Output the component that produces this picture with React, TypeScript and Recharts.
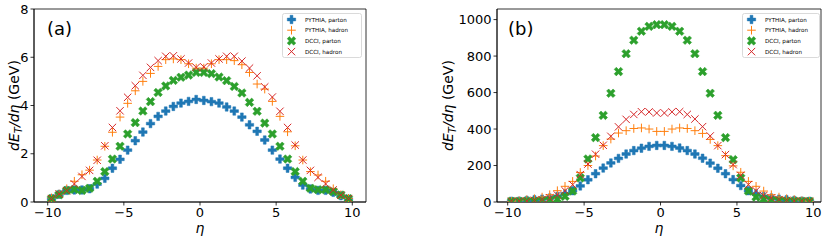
import { ScatterChart, Scatter, XAxis, YAxis, Legend, ReferenceArea, Label } from 'recharts';

const FONT = '"DejaVu Sans", sans-serif';
const BLUE = '#1f77b4';
const ORANGE = '#ff7f0e';
const GREEN = '#2ca02c';
const RED = '#d62728';

// bin centres in eta
const ETA = [
  -9.75, -9.25, -8.75, -8.25, -7.75, -7.25, -6.75, -6.25, -5.75, -5.25,
  -4.75, -4.25, -3.75, -3.25, -2.75, -2.25, -1.75, -1.25, -0.75, -0.25,
  0.25, 0.75, 1.25, 1.75, 2.25, 2.75, 3.25, 3.75, 4.25, 4.75,
  5.25, 5.75, 6.25, 6.75, 7.25, 7.75, 8.25, 8.75, 9.25, 9.75,
];

// panel (a)
const A_PYTHIA_PARTON = [
  0.14, 0.32, 0.48, 0.5, 0.5, 0.55, 0.74, 0.98, 1.4, 1.77,
  2.15, 2.54, 2.9, 3.25, 3.55, 3.77, 3.96, 4.1, 4.17, 4.25,
  4.21, 4.16, 4.1, 3.94, 3.77, 3.52, 3.2, 2.93, 2.57, 2.15,
  1.78, 1.4, 1.02, 0.7, 0.54, 0.48, 0.48, 0.4, 0.26, 0.12,
];
const A_PYTHIA_HADRON = [
  0.17, 0.33, 0.55, 0.86, 1.13, 1.32, 1.74, 2.31, 2.89, 3.52,
  4.09, 4.61, 5.0, 5.33, 5.62, 5.9, 5.93, 5.9, 5.73, 5.55,
  5.55, 5.73, 5.9, 5.9, 5.86, 5.69, 5.37, 4.89, 4.68, 4.17,
  3.55, 2.91, 2.33, 1.74, 1.26, 1.12, 0.86, 0.55, 0.3, 0.15,
];
const A_DCCI_PARTON = [
  0.14, 0.3, 0.48, 0.52, 0.48, 0.57, 0.86, 1.26, 1.78, 2.31,
  2.82, 3.29, 3.77, 4.16, 4.54, 4.81, 5.04, 5.17, 5.26, 5.37,
  5.37, 5.32, 5.18, 5.03, 4.79, 4.52, 4.13, 3.76, 3.27, 2.82,
  2.31, 1.78, 1.26, 0.86, 0.57, 0.51, 0.51, 0.43, 0.29, 0.14,
];
const A_DCCI_HADRON = [
  0.14, 0.33, 0.47, 0.75, 1.06, 1.31, 1.73, 2.33, 3.09, 3.78,
  4.34, 4.82, 5.25, 5.58, 5.86, 6.04, 6.06, 5.93, 5.76, 5.58,
  5.6, 5.76, 5.93, 6.04, 6.04, 5.84, 5.55, 5.23, 4.77, 4.35,
  3.76, 3.09, 2.36, 1.74, 1.31, 1.02, 0.75, 0.5, 0.28, 0.14,
];

// panel (b)
const B_PYTHIA_PARTON = [
  4, 5, 9, 13, 16, 22, 31, 44, 62, 88,
  122, 155, 186, 214, 239, 263, 282, 295, 305, 310,
  310, 305, 296, 282, 263, 240, 213, 185, 155, 123,
  90, 62, 45, 31, 22, 16, 13, 9, 5, 4,
];
const B_PYTHIA_HADRON = [
  4, 7, 13, 18, 27, 40, 62, 86, 113, 162,
  200, 252, 309, 345, 378, 391, 403, 406, 400, 387,
  387, 400, 406, 403, 391, 376, 343, 309, 254, 198,
  163, 113, 86, 60, 40, 27, 18, 13, 7, 4,
];
const B_DCCI_PARTON = [
  4, 4, 5, 5, 7, 9, 16, 31, 60, 132,
  236, 353, 475, 596, 715, 813, 887, 936, 963, 972,
  972, 963, 936, 887, 813, 715, 596, 475, 353, 232,
  132, 60, 27, 16, 9, 7, 5, 5, 4, 4,
];
const B_DCCI_HADRON = [
  4, 4, 5, 9, 13, 22, 38, 62, 95, 150,
  208, 262, 311, 360, 412, 453, 480, 495, 494, 488,
  488, 494, 495, 480, 455, 413, 362, 309, 260, 205,
  146, 95, 62, 35, 22, 13, 9, 5, 4, 4,
];

const LEGEND_NAMES = ['PYTHIA, parton', 'PYTHIA, hadron', 'DCCI, parton', 'DCCI, hadron'];

const toPoints = (ys: number[]) => ETA.map((x, i) => ({ x, y: ys[i] }));
const minus = (v: number) => String(v).replace('-', '\u2212');

function PlusFilled({ cx, cy, color, h = 4.2, w = 1.4 }: any) {
  const d = `M${cx - w},${cy - h}H${cx + w}V${cy - w}H${cx + h}V${cy + w}H${cx + w}V${cy + h}H${cx - w}V${cy + w}H${cx - h}V${cy - w}H${cx - w}Z`;
  return <path d={d} fill={color} stroke={color} strokeWidth={0.5} />;
}

function XFilled({ cx, cy, color }: any) {
  return (
    <g transform={`rotate(45 ${cx} ${cy})`}>
      <PlusFilled cx={cx} cy={cy} color={color} h={4.6} w={1.5} />
    </g>
  );
}

function PlusThin({ cx, cy, color }: any) {
  const h = 4.3;
  return (
    <path d={`M${cx - h},${cy}H${cx + h}M${cx},${cy - h}V${cy + h}`} stroke={color} strokeWidth={1} fill="none" />
  );
}

function XThin({ cx, cy, color }: any) {
  const h = 3.7;
  return (
    <path
      d={`M${cx - h},${cy - h}L${cx + h},${cy + h}M${cx - h},${cy + h}L${cx + h},${cy - h}`}
      stroke={color}
      strokeWidth={1}
      fill="none"
    />
  );
}

const MARKERS = [
  (p: any) => <PlusFilled cx={p.cx} cy={p.cy} color={BLUE} />,
  (p: any) => <PlusThin cx={p.cx} cy={p.cy} color={ORANGE} />,
  (p: any) => <XFilled cx={p.cx} cy={p.cy} color={GREEN} />,
  (p: any) => <XThin cx={p.cx} cy={p.cy} color={RED} />,
];

function LegendBox({ width }: { width: number }) {
  return (
    <svg width={width} height={45} style={{ display: 'block' }}>
      <rect x={0.5} y={0.5} width={width - 1} height={44} rx={2} fill="#fff" fillOpacity={0.8} stroke="#d0d0d0" strokeWidth={0.8} />
      {LEGEND_NAMES.map((name, i) => {
        const cy = 6.5 + i * 10.7;
        return (
          <g key={name}>
            {MARKERS[i]({ cx: 9.5, cy })}
            <text x={23} y={cy + 2} fontSize={5.6} fontFamily={FONT} fill="#000">
              {name}
            </text>
          </g>
        );
      })}
    </svg>
  );
}

function YLabel({ viewBox, offsetX }: any) {
  const cx = viewBox.x + offsetX;
  const cy = viewBox.y + viewBox.height / 2;
  return (
    <text x={cx} y={cy} transform={`rotate(-90 ${cx} ${cy})`} textAnchor="middle" dy="0.36em" fontSize={14} fontFamily={FONT} fill="#000">
      <tspan fontStyle="italic">dE</tspan>
      <tspan fontStyle="italic" fontSize={10} dy={3}>T</tspan>
      <tspan fontStyle="italic" dy={-3}>{'/d\u03b7'}</tspan>
      <tspan>{' (GeV)'}</tspan>
    </text>
  );
}

function Panel({ left, width, rightGap, yAxisWidth, xDomain, yDomain, yTicks, series, legendLeft, legendWidth, yLabelX }: any) {
  const tickStyle = { fontSize: 13, fill: '#000', fontFamily: FONT };
  return (
    <div style={{ position: 'absolute', left, top: 0 }}>
      <ScatterChart width={width} height={243} margin={{ top: 9, right: rightGap, bottom: 0, left: 0 }}>
        <XAxis
          type="number"
          dataKey="x"
          domain={xDomain}
          allowDataOverflow
          ticks={[-10, -5, 0, 5, 10]}
          tickFormatter={minus}
          height={41}
          tickSize={3.5}
          tick={tickStyle}
          stroke="#000"
          strokeWidth={0.8}
        >
          <Label value={'\u03b7'} position="insideBottom" offset={10} style={{ fontSize: 14, fontStyle: 'italic', fontFamily: FONT, fill: '#000' }} />
        </XAxis>
        <YAxis
          type="number"
          dataKey="y"
          domain={yDomain}
          allowDataOverflow
          ticks={yTicks}
          width={yAxisWidth}
          tickSize={3.5}
          tick={tickStyle}
          stroke="#000"
          strokeWidth={0.8}
        >
          <Label content={(p: any) => <YLabel viewBox={p.viewBox} offsetX={yLabelX} />} />
        </YAxis>
        {series.map((ys: number[], i: number) => (
          <Scatter key={LEGEND_NAMES[i]} name={LEGEND_NAMES[i]} data={toPoints(ys)} shape={MARKERS[i]} isAnimationActive={false} />
        ))}
        <ReferenceArea
          x1={xDomain[0]}
          x2={xDomain[1]}
          y1={yDomain[0]}
          y2={yDomain[1]}
          fill="none"
          stroke="#000"
          strokeWidth={0.8}
          ifOverflow="visible"
        />
        <Legend
          layout="vertical"
          align="center"
          verticalAlign="middle"
          content={() => <LegendBox width={legendWidth} />}
          wrapperStyle={{ left: legendLeft, top: 12.5, width: legendWidth, height: 45 }}
        />
      </ScatterChart>
    </div>
  );
}

export default function App() {
  return (
    <div style={{ position: 'absolute', left: 0, top: 0, width: 831, height: 243, background: '#fff' }}>
      <Panel
        left={0}
        width={380}
        rightGap={14}
        yAxisWidth={34}
        xDomain={[-10.9, 10.9]}
        yDomain={[0, 8]}
        yTicks={[0, 2, 4, 6, 8]}
        series={[A_PYTHIA_PARTON, A_PYTHIA_HADRON, A_DCCI_PARTON, A_DCCI_HADRON]}
        legendLeft={281.5}
        legendWidth={80}
        yLabelX={14}
      />
      <Panel
        left={420}
        width={411}
        rightGap={10}
        yAxisWidth={77}
        xDomain={[-10.7, 10.5]}
        yDomain={[0, 1058]}
        yTicks={[0, 200, 400, 600, 800, 1000]}
        series={[B_PYTHIA_PARTON, B_PYTHIA_HADRON, B_DCCI_PARTON, B_DCCI_HADRON]}
        legendLeft={322}
        legendWidth={78}
        yLabelX={28}
      />
      <svg width={831} height={243} style={{ position: 'absolute', left: 0, top: 0, pointerEvents: 'none' }}>
        <text x={47} y={35} fontSize={18} fontFamily={FONT} fill="#000">(a)</text>
        <text x={508} y={35} fontSize={18} fontFamily={FONT} fill="#000">(b)</text>
      </svg>
    </div>
  );
}
